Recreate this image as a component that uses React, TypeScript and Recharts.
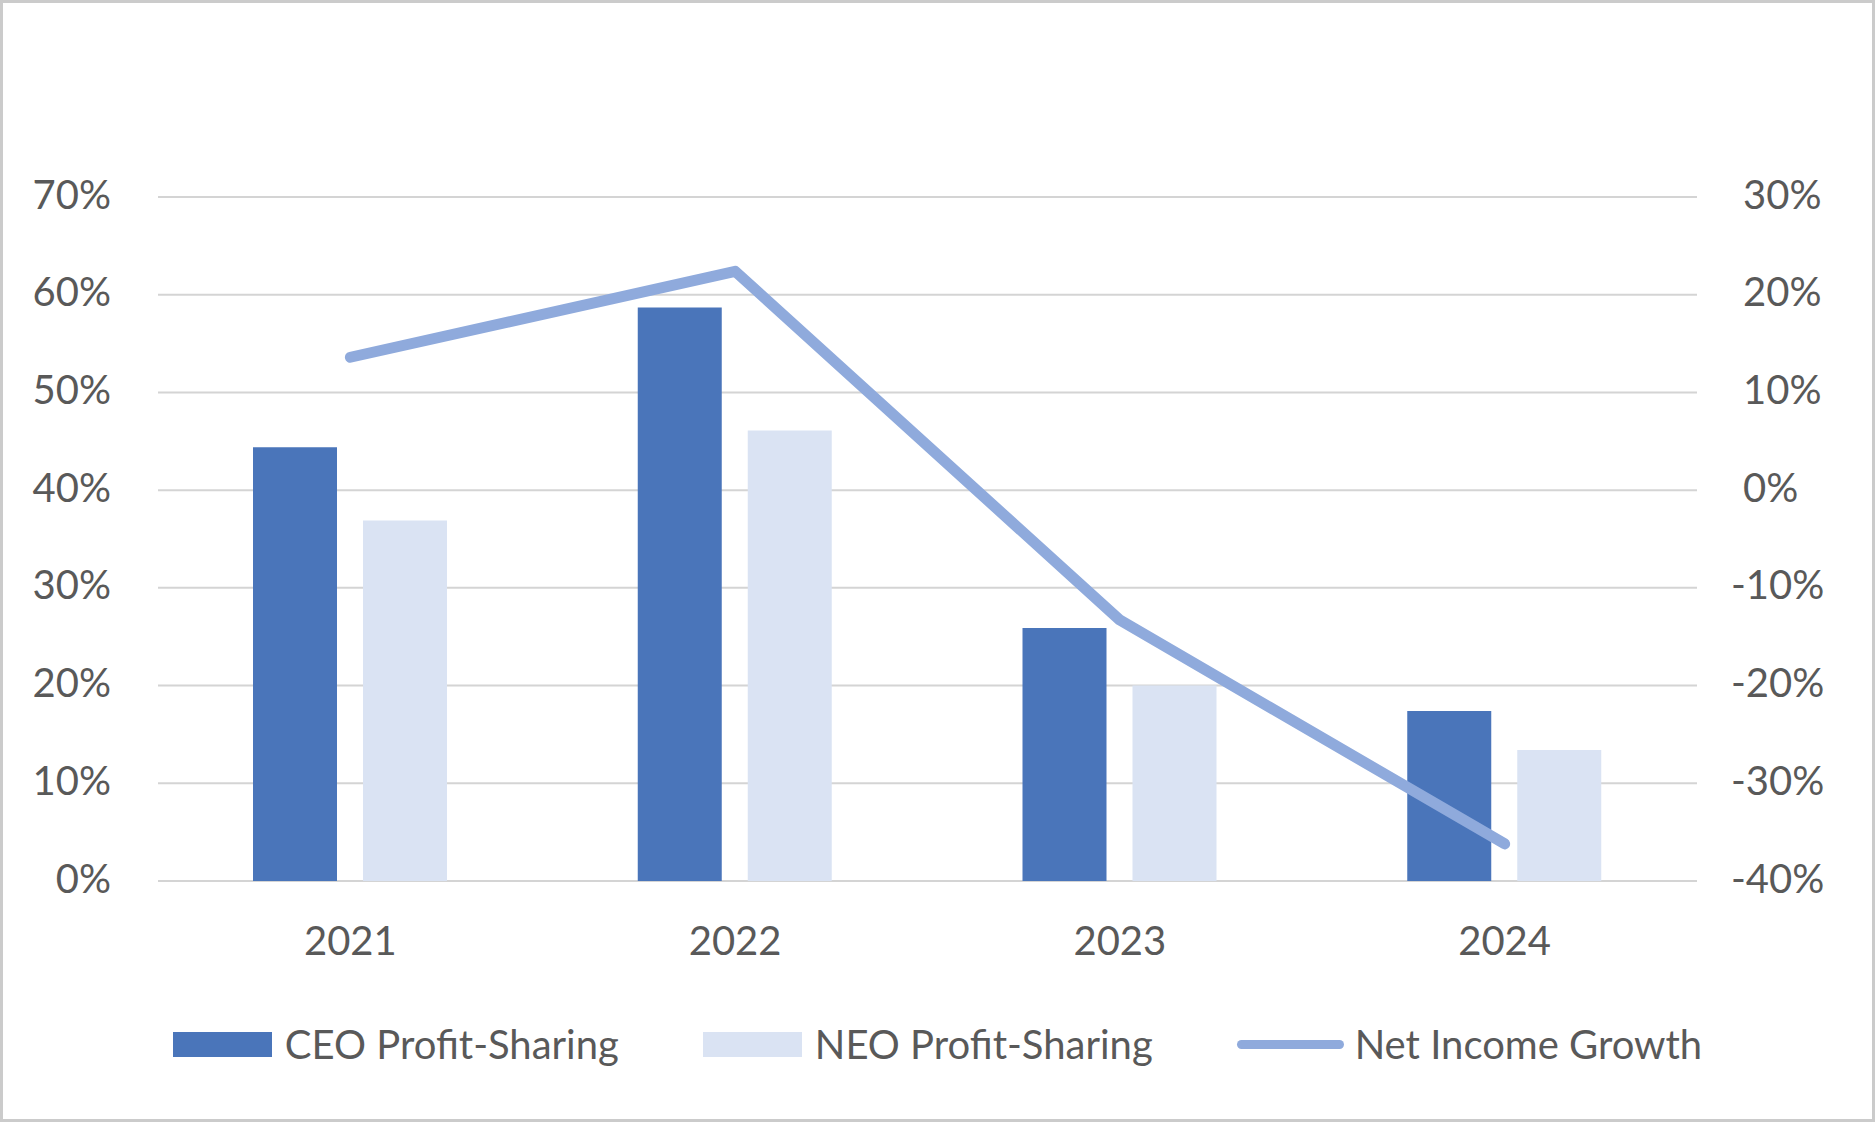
import React from 'react';
import { ComposedChart, Bar, Line, XAxis, YAxis, CartesianGrid } from 'recharts';

const years = ['2021', '2022', '2023', '2024'];
const ceoProfitSharing = [44.4, 58.7, 25.9, 17.4];
const neoProfitSharing = [36.9, 46.1, 20.0, 13.4];
const netIncomeGrowth = [13.6, 22.4, -13.3, -36.2];
const leftTicks = [0, 10, 20, 30, 40, 50, 60, 70];
const rightTicks = [-40, -30, -20, -10, 0, 10, 20, 30];

const seriesNames = ['CEO Profit-Sharing', 'NEO Profit-Sharing', 'Net Income Growth'];

const data = years.map((year, i) => ({
  year,
  ceo: ceoProfitSharing[i],
  neo: neoProfitSharing[i],
  growth: netIncomeGrowth[i],
}));

const W = 1875;
const H = 1122;
const PLOT_TOP = 197;
const PLOT_BOTTOM = 881;
const PLOT_LEFT = 158;
const PLOT_RIGHT = 1697;

const FONT = 'Lato, Carlito, Calibri, "Noto Sans", sans-serif';
const TEXT = '#595959';
const FS = 40;
const CEO_COLOR = '#4A75BA';
const NEO_COLOR = '#DAE3F3';
const LINE_COLOR = '#8FAADC';
const GRID = '#D4D4D4';

const LeftTick = (props: any) => {
  const { y, payload } = props;
  return (
    <text x={111} y={y} dy={11.5} textAnchor="end" fill={TEXT} fontFamily={FONT} fontSize={FS}>
      {`${payload.value}%`}
    </text>
  );
};

const RightTick = (props: any) => {
  const { y, payload } = props;
  const v = payload.value;
  return (
    <text x={v < 0 ? 1731 : 1743} y={y} dy={11.5} textAnchor="start" fill={TEXT} fontFamily={FONT} fontSize={FS}>
      {`${v}%`}
    </text>
  );
};

const BottomTick = (props: any) => {
  const { x, payload } = props;
  return (
    <text x={x} y={PLOT_BOTTOM + 74} textAnchor="middle" fill={TEXT} fontFamily={FONT} fontSize={FS}>
      {payload.value}
    </text>
  );
};

const LegendRow = () => (
  <div
    style={{
      position: 'absolute',
      left: 0,
      top: 1044 - 25,
      width: W,
      height: 50,
      display: 'flex',
      justifyContent: 'center',
      alignItems: 'center',
      gap: 84,
      fontFamily: FONT,
      fontSize: FS,
      color: TEXT,
      lineHeight: '50px',
      whiteSpace: 'nowrap',
    }}
  >
    <div style={{ display: 'flex', alignItems: 'center' }}>
      <div style={{ width: 99, height: 25, background: CEO_COLOR, marginRight: 13 }} />
      <span>{seriesNames[0]}</span>
    </div>
    <div style={{ display: 'flex', alignItems: 'center' }}>
      <div style={{ width: 99, height: 25, background: NEO_COLOR, marginRight: 13 }} />
      <span>{seriesNames[1]}</span>
    </div>
    <div style={{ display: 'flex', alignItems: 'center' }}>
      <div style={{ width: 107, height: 9, borderRadius: 5, background: LINE_COLOR, marginRight: 11 }} />
      <span>{seriesNames[2]}</span>
    </div>
  </div>
);

export default function App() {
  return (
    <div style={{ position: 'absolute', left: 0, top: 0, width: W, height: H, background: '#FFFFFF' }}>
      <ComposedChart
        width={W}
        height={H}
        data={data}
        margin={{ top: PLOT_TOP, right: 0, bottom: 0, left: 0 }}
        barGap={26}
      >
        <CartesianGrid yAxisId="left" vertical={false} stroke={GRID} strokeWidth={2} />
        <XAxis
          dataKey="year"
          height={H - PLOT_BOTTOM}
          axisLine={false}
          tickLine={false}
          tick={<BottomTick />}
          interval={0}
        />
        <YAxis
          yAxisId="left"
          orientation="left"
          width={PLOT_LEFT}
          domain={[0, 70]}
          ticks={leftTicks}
          axisLine={false}
          tickLine={false}
          tick={<LeftTick />}
          interval={0}
        />
        <YAxis
          yAxisId="right"
          orientation="right"
          width={W - PLOT_RIGHT}
          domain={[-40, 30]}
          ticks={rightTicks}
          axisLine={false}
          tickLine={false}
          tick={<RightTick />}
          interval={0}
        />
        <Bar yAxisId="left" dataKey="ceo" name={seriesNames[0]} fill={CEO_COLOR} barSize={84} isAnimationActive={false} />
        <Bar yAxisId="left" dataKey="neo" name={seriesNames[1]} fill={NEO_COLOR} barSize={84} isAnimationActive={false} />
        <Line
          yAxisId="right"
          type="linear"
          dataKey="growth"
          name={seriesNames[2]}
          stroke={LINE_COLOR}
          strokeWidth={11}
          strokeLinecap="round"
          strokeLinejoin="round"
          dot={false}
          activeDot={false}
          isAnimationActive={false}
        />
      </ComposedChart>
      <LegendRow />
      <div
        style={{
          position: 'absolute',
          left: 0,
          top: 0,
          width: W,
          height: H,
          boxSizing: 'border-box',
          border: '3px solid #CBCBCB',
          pointerEvents: 'none',
        }}
      />
    </div>
  );
}
